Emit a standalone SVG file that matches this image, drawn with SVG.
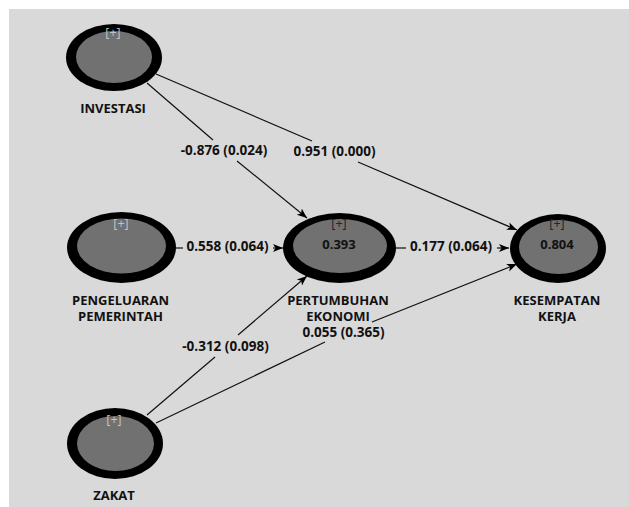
<svg xmlns="http://www.w3.org/2000/svg" width="629" height="507" viewBox="0 0 629 507">
<defs>
<marker id="arr" markerUnits="userSpaceOnUse" markerWidth="10" markerHeight="10" viewBox="0 0 10 8" refX="10" refY="4" orient="auto">
<path d="M0,0 L10,4 L0,8 L2.5,4 z" fill="#000"/>
</marker>
<style>
.bg{fill:#d9d9d9}
.ring{fill:#000}
.core{fill:#717171}
.lbl{font-family:"Open Sans","Noto Sans","DejaVu Sans",sans-serif;font-weight:700;font-size:13px;fill:#111;text-anchor:middle}
.el{font-family:"Open Sans","Noto Sans","DejaVu Sans",sans-serif;font-weight:700;font-size:13.5px;fill:#111;text-anchor:middle}
.plus{font-family:"Open Sans","Noto Sans","DejaVu Sans",sans-serif;font-size:12.5px;text-anchor:middle}
.pl{fill:#c4c4c4}
.pd{fill:#222}
.ln{stroke:#111;stroke-width:1.2;fill:none}
</style>
</defs>
<rect x="0" y="0" width="629" height="507" fill="#fff"/>
<rect class="bg" x="9" y="9" width="620" height="498"/>

<g id="connectors">
<line class="ln" x1="147" y1="83" x2="213" y2="140"/>
<line class="ln" x1="237" y1="161" x2="307" y2="218" marker-end="url(#arr)"/>
<line class="ln" x1="156" y1="74" x2="312" y2="141"/>
<line class="ln" x1="358" y1="162" x2="517" y2="230" marker-end="url(#arr)"/>
<line class="ln" x1="175" y1="248" x2="183" y2="248"/>
<line class="ln" x1="273" y1="248" x2="283" y2="248" marker-end="url(#arr)"/>
<line class="ln" x1="396" y1="248" x2="406" y2="248"/>
<line class="ln" x1="497" y1="248" x2="509" y2="248" marker-end="url(#arr)"/>
<line class="ln" x1="147" y1="415" x2="215" y2="357"/>
<line class="ln" x1="238" y1="335" x2="307" y2="276" marker-end="url(#arr)"/>
<line class="ln" x1="156" y1="423" x2="325" y2="342"/>
<line class="ln" x1="372" y1="322" x2="517" y2="264" marker-end="url(#arr)"/>
<text class="el" x="224" y="155">-0.876 (0.024)</text>
<text class="el" x="334.5" y="155.5">0.951 (0.000)</text>
<text class="el" x="227.5" y="251">0.558 (0.064)</text>
<text class="el" x="451" y="251">0.177 (0.064)</text>
<text class="el" x="225.5" y="351">-0.312 (0.098)</text>
<text class="el" x="343.5" y="337">0.055 (0.365)</text>
</g>

<g id="investasi">
<ellipse class="ring" cx="114" cy="57.5" rx="48" ry="33.5"/>
<ellipse class="core" cx="114" cy="57" rx="38" ry="26"/>
<text class="plus pl" x="113" y="37">[+]</text>
<text class="lbl" x="113" y="113">INVESTASI</text>
</g>

<g id="pengeluaran">
<ellipse class="ring" cx="121.5" cy="247.5" rx="54.5" ry="35.5"/>
<ellipse class="core" cx="121.5" cy="246" rx="44.5" ry="27.5"/>
<text class="plus pl" x="121" y="228">[+]</text>
<text class="lbl" x="120.5" y="304.5">PENGELUARAN</text>
<text class="lbl" x="120.5" y="321">PEMERINTAH</text>
</g>

<g id="pertumbuhan">
<ellipse class="ring" cx="339.5" cy="248" rx="56.5" ry="35"/>
<ellipse class="core" cx="340" cy="246" rx="47" ry="27"/>
<text class="plus pd" x="339" y="228">[+]</text>
<text class="lbl" x="339" y="249">0.393</text>
<text class="lbl" x="338" y="304.5">PERTUMBUHAN</text>
<text class="lbl" x="338" y="321">EKONOMI</text>
</g>

<g id="kesempatan">
<ellipse class="ring" cx="558" cy="248.5" rx="48" ry="34.5"/>
<ellipse class="core" cx="558.5" cy="247" rx="39.5" ry="27"/>
<text class="plus pd" x="557" y="228">[+]</text>
<text class="lbl" x="557" y="249">0.804</text>
<text class="lbl" x="557" y="304.5">KESEMPATAN</text>
<text class="lbl" x="557" y="321">KERJA</text>
</g>

<g id="zakat">
<ellipse class="ring" cx="115" cy="443.5" rx="48" ry="35.5"/>
<ellipse class="core" cx="115.5" cy="443.5" rx="38.5" ry="27.5"/>
<text class="plus pl" x="114" y="424">[+]</text>
<text class="lbl" x="114" y="500">ZAKAT</text>
</g>
</svg>
